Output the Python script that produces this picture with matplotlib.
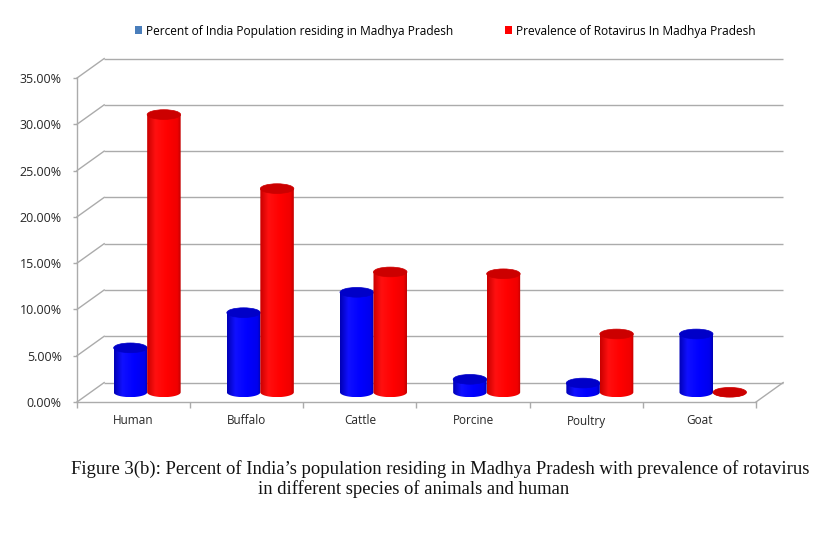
import numpy as np
import matplotlib
matplotlib.use("Agg")
import matplotlib.pyplot as plt
from matplotlib.patches import Polygon, Ellipse, Patch
from matplotlib.colors import LinearSegmentedColormap

# ---- data ----
categories = ["Human", "Buffalo", "Cattle", "Porcine", "Poultry", "Goat"]
population_pct = [4.8, 8.6, 10.8, 1.4, 1.0, 6.3]
rotavirus_pct = [30.0, 22.0, 13.0, 12.8, 6.3, 0.0]
series_names = ["Percent of India Population residing in Madhya Pradesh",
                "Prevalence of Rotavirus In Madhya Pradesh"]
y_ticks = [0, 5, 10, 15, 20, 25, 30, 35]
caption_lines = ["Figure 3(b): Percent of India\u2019s population residing in Madhya Pradesh with prevalence of rotavirus",
                 "in different species of animals and human"]

# ---- style ----
W, H = 826, 538
fig = plt.figure(figsize=(W / 100, H / 100), dpi=100)
ax = fig.add_axes([77 / W, (H - 402) / H, 679 / W, 324 / H])
n = len(categories)
xmin, xmax = -0.5, n - 0.5
ymin, ymax = 0, 35
depth_dx, depth_dy = 0.24, 2.1       # back-wall offset (data units)
mid_dx, mid_dy = depth_dx / 2, depth_dy / 2
bar_w = 0.296
ell_h = 1.05
grid_c = "#ababab"

# walls / floor gridlines
for k in y_ticks:
    ax.plot([xmin + depth_dx, xmax + depth_dx], [k + depth_dy, k + depth_dy],
            color=grid_c, lw=1.0, zorder=1, clip_on=False, solid_capstyle="butt")
    ax.plot([xmin, xmin + depth_dx], [k, k + depth_dy],
            color=grid_c, lw=1.0, zorder=1, clip_on=False)
ax.plot([xmin, xmin], [ymin, ymax], color=grid_c, lw=1.0, zorder=1, clip_on=False)
ax.plot([xmin, xmax], [0, 0], color=grid_c, lw=1.0, zorder=1, clip_on=False)
ax.plot([xmax, xmax + depth_dx], [0, depth_dy], color=grid_c, lw=1.0, zorder=1, clip_on=False)

red_cmap = LinearSegmentedColormap.from_list(
    "r", [(0, "#c80000"), (0.25, "#ff1010"), (0.6, "#ff0000"), (0.9, "#f00000"), (1, "#c00000")])
blue_cmap = LinearSegmentedColormap.from_list(
    "b", [(0, "#0000b4"), (0.25, "#1010ff"), (0.6, "#0000ff"), (0.9, "#0000ee"), (1, "#0000b0")])
top_colors = {"r": "#cc0000", "b": "#0000c8"}


def cylinder(xc, v, cmap, topc, z):
    x0, x1 = xc - bar_w / 2, xc + bar_w / 2
    base = mid_dy
    top = v + mid_dy
    t = np.linspace(np.pi, 2 * np.pi, 60)
    arc_x = xc + bar_w / 2 * np.cos(t)
    arc_y = base + ell_h / 2 * np.sin(t)
    pts = np.vstack([[x0, top], np.column_stack([arc_x, arc_y]), [x1, top]])
    body = Polygon(pts, closed=True, facecolor="none", edgecolor="none",
                   transform=ax.transData, clip_on=False)
    ax.add_patch(body)
    grad = np.linspace(0, 1, 256).reshape(1, -1)
    im = ax.imshow(grad, cmap=cmap, extent=(x0, x1, base - ell_h / 2, top),
                   aspect="auto", interpolation="bilinear", zorder=z, origin="lower")
    im.set_clip_path(body)
    ax.add_patch(Ellipse((xc, top), bar_w, ell_h, facecolor=topc,
                         edgecolor=topc, lw=0.5, zorder=z + 0.1, clip_on=False))


for i in range(n):
    cylinder(i + mid_dx - bar_w / 2, population_pct[i], blue_cmap, top_colors["b"], 3 + i)
    cylinder(i + mid_dx + bar_w / 2, rotavirus_pct[i], red_cmap, top_colors["r"], 3.5 + i)

ax.set_xlim(xmin, xmax)
ax.set_ylim(ymin, ymax)
for s in ax.spines.values():
    s.set_visible(False)

ax.set_yticks(y_ticks)
ax.set_yticklabels([f"{v:.2f}%" for v in y_ticks], fontsize=9, color="#262626",
                   fontfamily="Open Sans")
ax.tick_params(axis="y", length=3, width=1, color=grid_c, pad=8)
ax.set_xticks(range(n))
ax.set_xticklabels(categories, fontsize=8.5, color="#262626", fontfamily="Open Sans")
ax.set_xticks(np.arange(xmin, xmax + 0.01, 1.0), minor=True)
ax.tick_params(axis="x", which="major", length=0, pad=9)
ax.tick_params(axis="x", which="minor", length=4, width=1, color=grid_c)
ax.patch.set_visible(False)

handles = [Patch(facecolor="#4a7ebb", edgecolor="none"),
           Patch(facecolor="#ff0000", edgecolor="none")]
fig.legend(handles, series_names, loc="center left", bbox_to_anchor=(130 / W, 1 - 31 / H),
           ncol=2, frameon=False, handlelength=0.6, handleheight=0.6,
           handletextpad=0.35, columnspacing=4.3, borderaxespad=0,
           prop={"family": "Open Sans", "size": 8.6})

caption_x = [440, 414]
for j, line in enumerate(caption_lines):
    fig.text(caption_x[j] / W, 1 - (469 + 20 * j) / H, line, ha="center", va="center",
             fontsize=13.4, fontfamily="Liberation Serif", color="#111111")

fig.savefig("out.png", dpi=100, facecolor="white")
